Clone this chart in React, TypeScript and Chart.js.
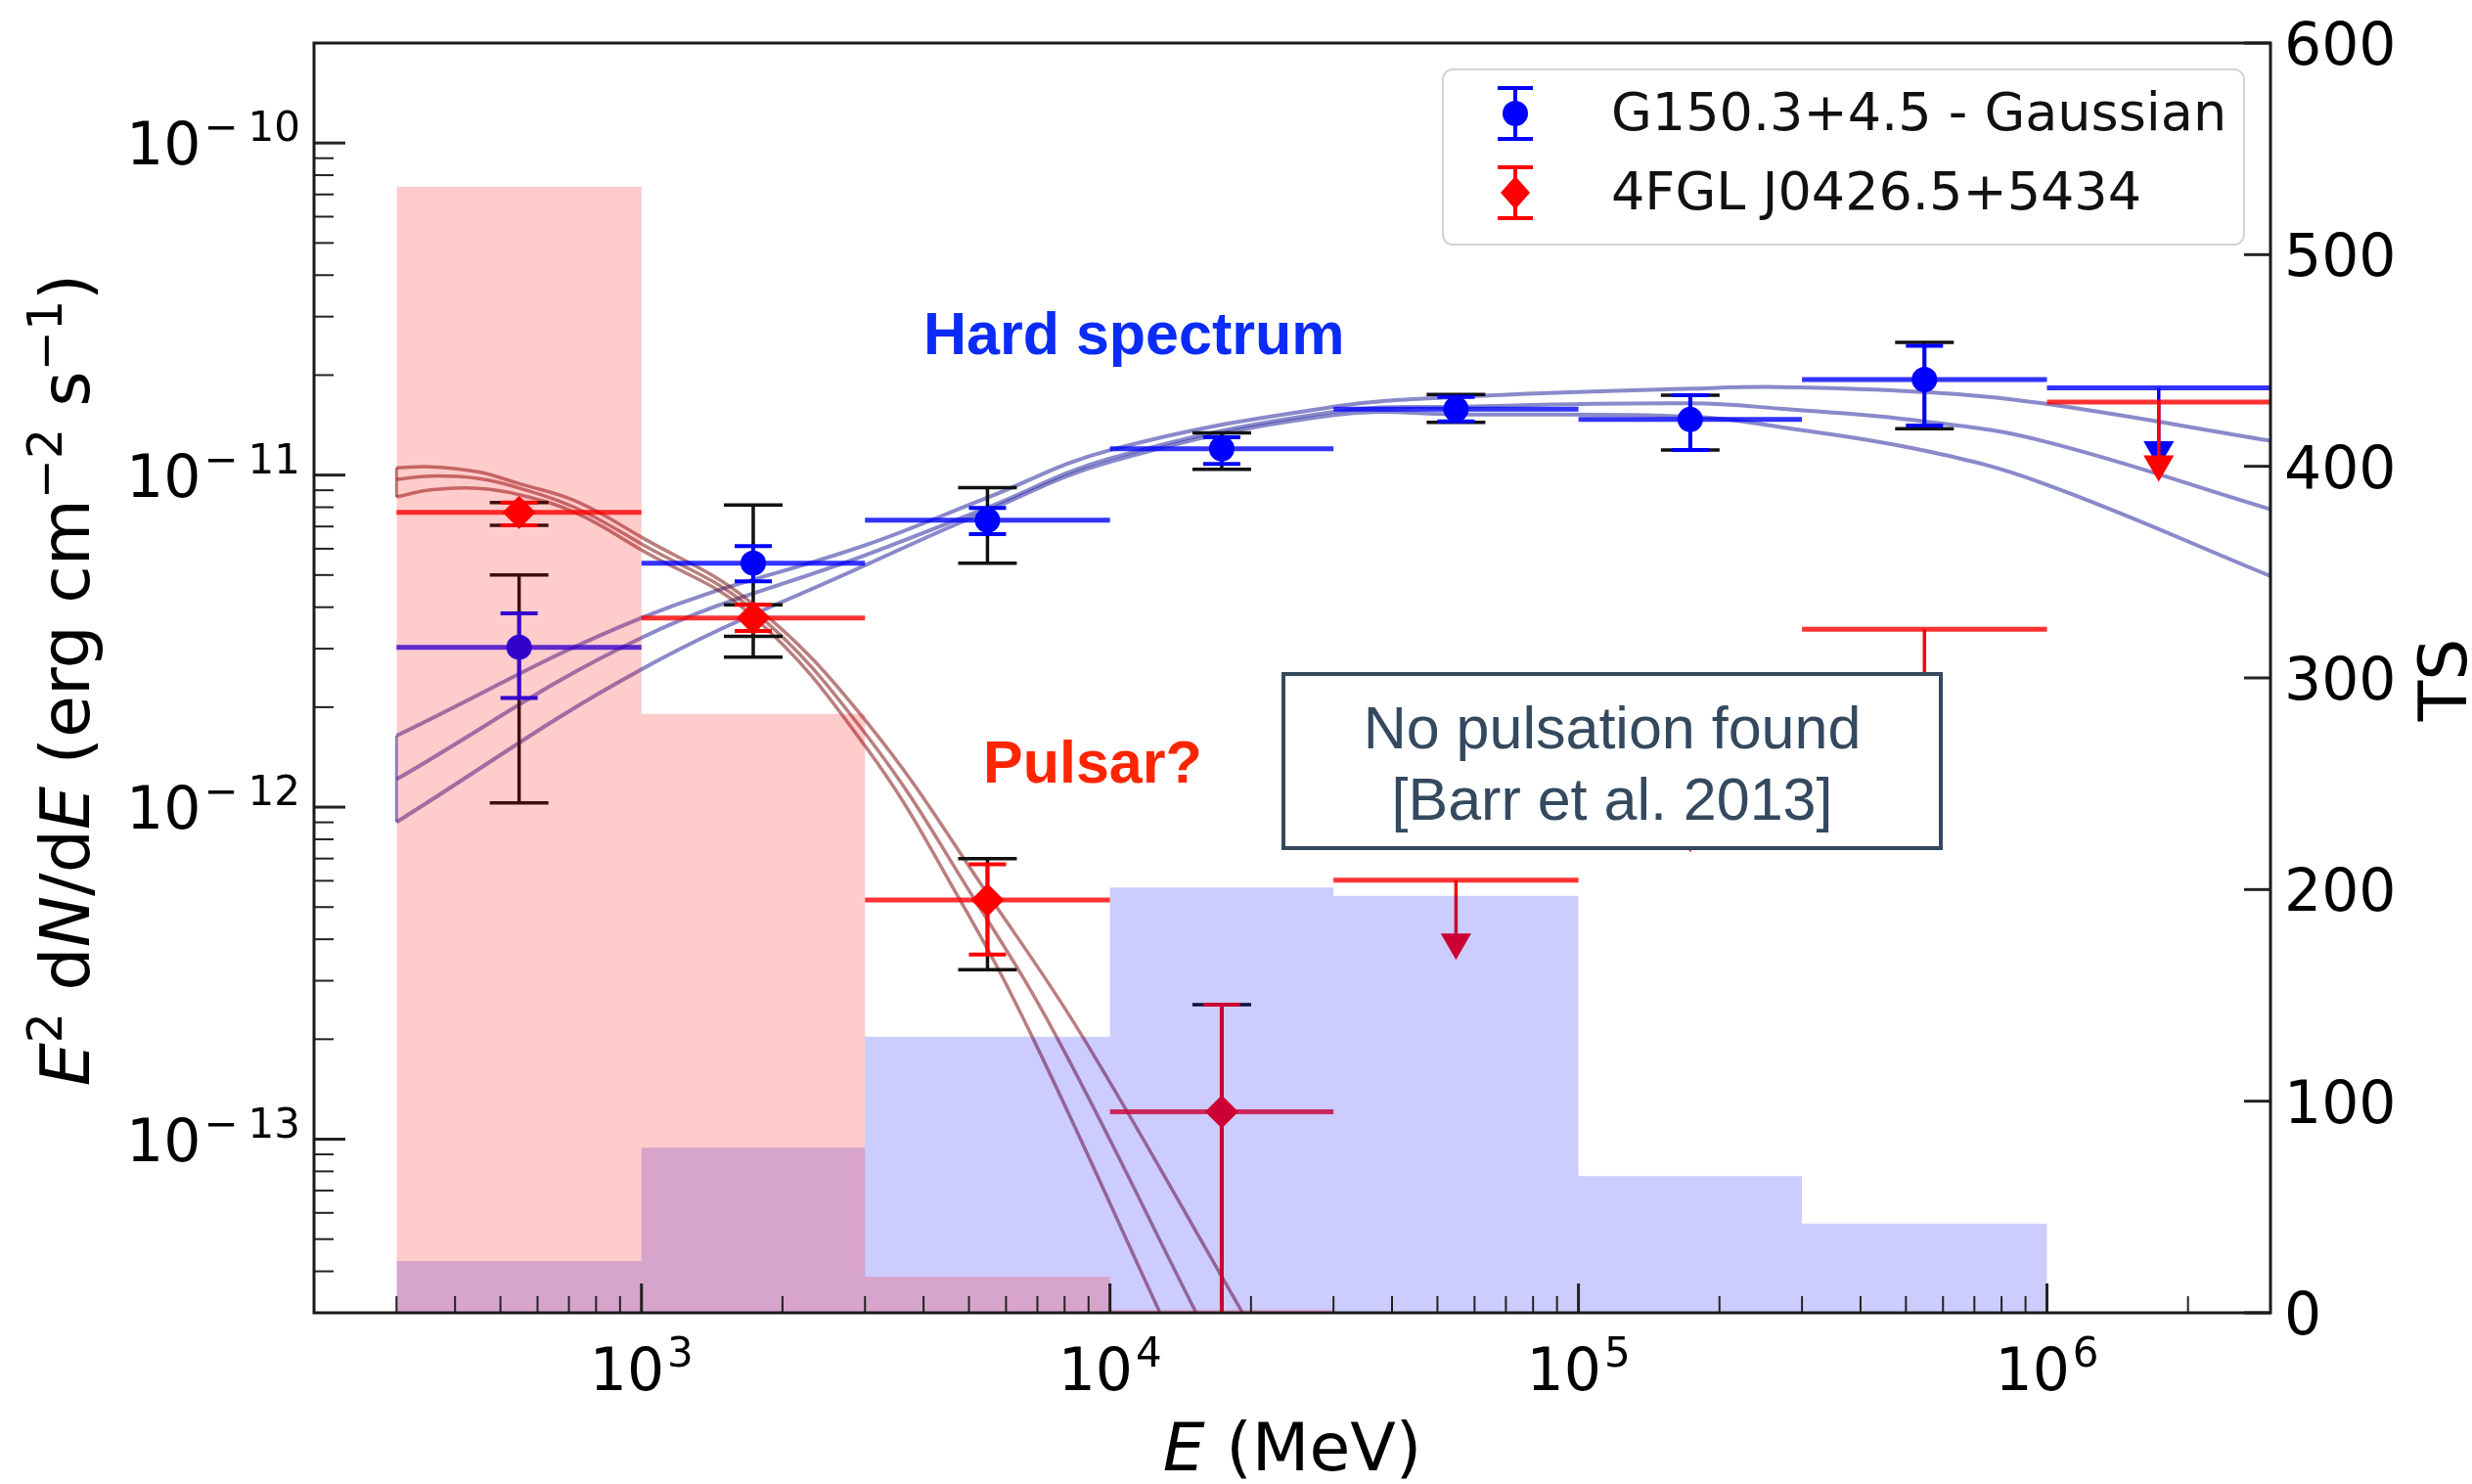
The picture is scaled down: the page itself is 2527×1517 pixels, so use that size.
import React, { useEffect, useRef } from "react";
import { Chart, registerables } from "chart.js";

Chart.register(...registerables);

const W = 2527;
const H = 1517;

// ---------------- data ----------------
// energy bins (MeV)
const binEdges = [300, 1000, 3000, 10000, 30000, 100000, 300000, 1000000, 3000000];
// TS per bin (right axis)
const tsPulsar = [532, 283, 17, 1.5, 0, 0, 0, 0];
const tsGauss = [24.5, 78, 130.5, 201, 197, 64.6, 42.2, 0];

// G150.3+4.5 - Gaussian
const gaussE = [548, 1732, 5477, 17321, 54772, 173205, 547723];
const gaussFlux = [3.03e-12, 5.43e-12, 7.31e-12, 1.2e-11, 1.58e-11, 1.47e-11, 1.94e-11];
const gaussStatLo = [2.13e-12, 4.79e-12, 6.64e-12, 1.08e-11, 1.45e-11, 1.19e-11, 1.41e-11];
const gaussStatHi = [3.83e-12, 6.11e-12, 7.96e-12, 1.3e-11, 1.72e-11, 1.74e-11, 2.45e-11];
const gaussSysLo = [1.03e-12, 2.83e-12, 5.43e-12, 1.04e-11, 1.44e-11, 1.19e-11, 1.38e-11];
const gaussSysHi = [5.0e-12, 8.13e-12, 9.16e-12, 1.34e-11, 1.75e-11, 1.74e-11, 2.51e-11];
const gaussUlE = [1732051];
const gaussUl = [1.83e-11];

// 4FGL J0426.5+5434
const psrE = [548, 1732, 5477, 17321];
const psrFlux = [7.72e-12, 3.71e-12, 5.25e-13, 1.21e-13];
const psrStatLo = [7.06e-12, 3.39e-12, 3.6e-13, 1e-15];
const psrStatHi = [8.26e-12, 4.07e-12, 6.73e-13, 2.54e-13];
const psrSysLo = [7.06e-12, 3.27e-12, 3.24e-13, 1e-15];
const psrSysHi = [8.26e-12, 4.07e-12, 7.0e-13, 2.54e-13];
const psrUlE = [54772, 173205, 547723, 1732051];
const psrUl = [6.03e-13, 1.27e-12, 3.43e-12, 1.66e-11];

// model bands (three lines each)
const gaussModelE = [300, 1000, 3020, 5430, 10000, 29800, 57500, 174000, 269000, 546000, 977000, 3000000];
const gaussModelHi = [1.641e-12, 3.715e-12, 6.166e-12, 8.511e-12, 1.189e-11, 1.603e-11, 1.722e-11, 1.82e-11, 1.841e-11, 1.778e-11, 1.644e-11, 1.268e-11];
const gaussModelMid = [1.213e-12, 3.236e-12, 5.754e-12, 7.943e-12, 1.122e-11, 1.549e-11, 1.607e-11, 1.644e-11, 1.585e-11, 1.452e-11, 1.268e-11, 7.889e-12];
const gaussModelLo = [9.016e-13, 2.6e-12, 5.37e-12, 7.762e-12, 1.096e-11, 1.514e-11, 1.521e-11, 1.5e-11, 1.396e-11, 1.186e-11, 9.462e-12, 4.966e-12];

const psrModelHiE = [300, 355, 447, 548, 725, 1000, 1706, 3020, 5640, 8770, 19140];
const psrModelHi = [1.052e-11, 1.059e-11, 1.023e-11, 9.42e-12, 8.34e-12, 6.5e-12, 4.15e-12, 1.81e-12, 5.16e-13, 2.02e-13, 3.02e-14];
const psrModelMidE = [300, 355, 447, 548, 725, 1000, 1706, 3020, 5190, 7710, 15240];
const psrModelMid = [9.7e-12, 9.93e-12, 9.77e-12, 9.14e-12, 7.96e-12, 6.2e-12, 3.98e-12, 1.65e-12, 5.16e-13, 2.02e-13, 3.02e-14];
const psrModelLoE = [300, 355, 447, 548, 725, 1000, 1706, 3020, 4820, 6840, 12760];
const psrModelLo = [8.59e-12, 9.02e-12, 9.12e-12, 8.73e-12, 7.69e-12, 5.95e-12, 3.82e-12, 1.51e-12, 5.16e-13, 2.02e-13, 3.02e-14];

// axes / ticks
const xMin = 200;
const xMax = 3e6;
const yMin = 3e-14;
const yMax = 2e-10;
const xDecades = [1e3, 1e4, 1e5, 1e6];
const xDecadeExp = ["3", "4", "5", "6"];
const yDecades = [1e-13, 1e-12, 1e-11, 1e-10];
const yDecadeExp = ["13", "12", "11", "10"];
const tsTicks = [0, 100, 200, 300, 400, 500, 600];

const legendLabels = ["G150.3+4.5 - Gaussian", "4FGL J0426.5+5434"];

// ---------------- styles ----------------
const FONT = '"DejaVu Sans", sans-serif';
const SANS = '"Liberation Sans", Arial, sans-serif';
const BLUE = "#0000ff";
const RED = "#ff0000";
const UL_ARROW = 0.65;

function binIndex(e: number) {
  for (let k = 0; k < binEdges.length - 1; k++) {
    if (e >= binEdges[k] && e < binEdges[k + 1]) return k;
  }
  return binEdges.length - 2;
}

function seg(ctx: CanvasRenderingContext2D, x1: number, y1: number, x2: number, y2: number, color: string, lw: number) {
  ctx.strokeStyle = color;
  ctx.lineWidth = lw;
  ctx.beginPath();
  ctx.moveTo(x1, y1);
  ctx.lineTo(x2, y2);
  ctx.stroke();
}

function errbar(ctx: CanvasRenderingContext2D, x: number, y1: number, y2: number, color: string, lw: number, cap: number) {
  seg(ctx, x, y1, x, y2, color, lw);
  seg(ctx, x - cap, y1, x + cap, y1, color, lw);
  seg(ctx, x - cap, y2, x + cap, y2, color, lw);
}

// draws 10^exp; negative exponents get a spaced minus sign like mathtext
function drawPow(ctx: CanvasRenderingContext2D, x: number, yBase: number, exp: string, neg: boolean, align: "center" | "right") {
  const big = `60px ${FONT}`;
  const small = `42px ${FONT}`;
  ctx.font = big;
  const wb = ctx.measureText("10").width;
  ctx.font = small;
  const wm = neg ? ctx.measureText("\u2212").width + 10 : 0;
  const we = ctx.measureText(exp).width;
  const tot = wb + 3 + wm + we;
  const x0 = align === "center" ? x - tot / 2 : x - tot;
  ctx.textAlign = "left";
  ctx.textBaseline = "alphabetic";
  ctx.fillStyle = "#000";
  ctx.font = big;
  ctx.fillText("10", x0, yBase);
  ctx.font = small;
  if (neg) ctx.fillText("\u2212", x0 + wb + 3, yBase - 24);
  ctx.fillText(exp, x0 + wb + 3 + wm, yBase - 24);
}

type Piece = { t: string; it?: boolean; sup?: boolean };

function drawRich(ctx: CanvasRenderingContext2D, pieces: Piece[], size: number) {
  const fontOf = (p: Piece) => `${p.it ? "italic " : ""}${p.sup ? Math.round(size * 0.7) : size}px ${FONT}`;
  let tot = 0;
  const widths = pieces.map((p) => {
    ctx.font = fontOf(p);
    const w = ctx.measureText(p.t).width;
    tot += w;
    return w;
  });
  let x = -tot / 2;
  ctx.textAlign = "left";
  ctx.textBaseline = "alphabetic";
  pieces.forEach((p, i) => {
    ctx.font = fontOf(p);
    ctx.fillText(p.t, x, p.sup ? -size * 0.4 : 0);
    x += widths[i];
  });
}

const sedPlugin: any = {
  id: "sed",
  beforeDatasetDraw(chart: any, args: any) {
    const ds: any = chart.data.datasets[args.index];
    const info = ds.errInfo;
    if (!info) return;
    const ctx: CanvasRenderingContext2D = chart.ctx;
    const xs = chart.scales.x;
    const ys = chart.scales.y;
    const a = chart.chartArea;
    ctx.save();
    ctx.beginPath();
    ctx.rect(a.left, a.top, a.right - a.left, a.bottom - a.top);
    ctx.clip();
    ctx.lineCap = "butt";
    info.E.forEach((e: number, i: number) => {
      const k = binIndex(e);
      const x = xs.getPixelForValue(e);
      const xl = xs.getPixelForValue(binEdges[k]);
      const xr = xs.getPixelForValue(binEdges[k + 1]);
      const y = ys.getPixelForValue(info.val[i]);
      seg(ctx, xl, y, xr, y, info.hColor, 5);
      if (info.ul) {
        const yt = ys.getPixelForValue(info.val[i] * UL_ARROW);
        seg(ctx, x, y, x, yt, info.color, 3.5);
      } else {
        errbar(ctx, x, ys.getPixelForValue(info.sysLo[i]), ys.getPixelForValue(info.sysHi[i]), "#111111", 3.5, 30);
        errbar(ctx, x, ys.getPixelForValue(info.statLo[i]), ys.getPixelForValue(info.statHi[i]), info.color, 4, 19);
      }
    });
    ctx.restore();
  },
  afterDatasetsDraw(chart: any) {
    const ctx: CanvasRenderingContext2D = chart.ctx;
    const xs = chart.scales.x;
    const ys = chart.scales.y;
    const ts = chart.scales.yTS;
    const a = chart.chartArea;
    ctx.save();

    // ticks (inward)
    ctx.lineCap = "butt";
    for (let d = 100; d <= 1e6; d *= 10) {
      for (let m = 1; m <= 9; m++) {
        const v = m * d;
        if (v < xMin || v > xMax) continue;
        const px = xs.getPixelForValue(v);
        const major = m === 1;
        seg(ctx, px, a.bottom, px, a.bottom - (major ? 30 : 17), "#222", major ? 3 : 2);
      }
    }
    for (let d = 1e-14; d <= 1e-10; d *= 10) {
      for (let m = 1; m <= 9; m++) {
        const v = m * d;
        if (v < yMin * 0.999 || v > yMax * 1.001) continue;
        const py = ys.getPixelForValue(v);
        const major = m === 1;
        seg(ctx, a.left, py, a.left + (major ? 32 : 20), py, "#222", major ? 3 : 2);
      }
    }
    tsTicks.forEach((v) => {
      const py = ts.getPixelForValue(v);
      seg(ctx, a.right, py, a.right - 27, py, "#222", 3);
    });

    // frame
    ctx.strokeStyle = "#1a1a1a";
    ctx.lineWidth = 3;
    ctx.strokeRect(a.left, a.top, a.right - a.left, a.bottom - a.top);

    // tick labels
    xDecades.forEach((v, i) => drawPow(ctx, xs.getPixelForValue(v), a.bottom + 79, xDecadeExp[i], false, "center"));
    yDecades.forEach((v, i) => drawPow(ctx, a.left - 14, ys.getPixelForValue(v) + 22, yDecadeExp[i], true, "right"));
    ctx.font = `60px ${FONT}`;
    ctx.fillStyle = "#000";
    ctx.textAlign = "left";
    ctx.textBaseline = "alphabetic";
    tsTicks.forEach((v) => ctx.fillText(String(v), a.right + 14, ts.getPixelForValue(v) + 22));

    // axis titles
    ctx.fillStyle = "#000";
    ctx.save();
    ctx.translate((a.left + a.right) / 2, 1503);
    drawRich(ctx, [{ t: "E", it: true }, { t: " (MeV)" }], 68);
    ctx.restore();

    ctx.save();
    ctx.translate(91, 695);
    ctx.rotate(-Math.PI / 2);
    drawRich(
      ctx,
      [
        { t: "E", it: true },
        { t: "2", sup: true },
        { t: " d" },
        { t: "N", it: true },
        { t: "/d" },
        { t: "E", it: true },
        { t: " (erg cm" },
        { t: "\u22122", sup: true },
        { t: " s" },
        { t: "\u22121", sup: true },
        { t: ")" },
      ],
      70
    );
    ctx.restore();

    ctx.save();
    ctx.translate(2521, 695);
    ctx.rotate(-Math.PI / 2);
    drawRich(ctx, [{ t: "TS" }], 68);
    ctx.restore();

    // annotations
    ctx.textAlign = "left";
    ctx.textBaseline = "alphabetic";
    ctx.font = `bold 61px ${SANS}`;
    ctx.fillStyle = "#0b2cf7";
    ctx.fillText("Hard spectrum", 944, 362);
    ctx.fillStyle = "#ff2500";
    ctx.fillText("Pulsar?", 1005, 800);

    // boxed note
    ctx.fillStyle = "#ffffff";
    ctx.fillRect(1312, 689, 672, 178);
    ctx.strokeStyle = "#34495e";
    ctx.lineWidth = 4;
    ctx.strokeRect(1312, 689, 672, 178);
    ctx.fillStyle = "#34495e";
    ctx.font = `61px ${SANS}`;
    ctx.textAlign = "center";
    ctx.fillText("No pulsation found", 1648, 765);
    ctx.fillText("[Barr et al. 2013]", 1648, 838);

    // legend
    const lx = 1475, ly = 71, lw = 819, lh = 179, r = 10;
    ctx.beginPath();
    ctx.moveTo(lx + r, ly);
    ctx.arcTo(lx + lw, ly, lx + lw, ly + lh, r);
    ctx.arcTo(lx + lw, ly + lh, lx, ly + lh, r);
    ctx.arcTo(lx, ly + lh, lx, ly, r);
    ctx.arcTo(lx, ly, lx + lw, ly, r);
    ctx.closePath();
    ctx.fillStyle = "rgba(255,255,255,0.85)";
    ctx.fill();
    ctx.strokeStyle = "#d4d4d4";
    ctx.lineWidth = 2;
    ctx.stroke();

    const mx = 1549;
    const rows = [116, 197];
    const cols = [BLUE, RED];
    rows.forEach((ry, i) => {
      errbar(ctx, mx, ry - 26, ry + 26, cols[i], 4, 18);
      ctx.fillStyle = cols[i];
      ctx.beginPath();
      if (i === 0) {
        ctx.arc(mx, ry, 13, 0, Math.PI * 2);
      } else {
        ctx.moveTo(mx, ry - 17);
        ctx.lineTo(mx + 15, ry);
        ctx.lineTo(mx, ry + 17);
        ctx.lineTo(mx - 15, ry);
        ctx.closePath();
      }
      ctx.fill();
      ctx.fillStyle = "#111";
      ctx.font = `54px ${FONT}`;
      ctx.textAlign = "left";
      ctx.textBaseline = "alphabetic";
      ctx.fillText(legendLabels[i], 1647, ry + 17);
    });

    ctx.restore();
  },
};

function stepData(ts: number[]) {
  return binEdges.map((e, i) => ({ x: e, y: ts[Math.min(i, ts.length - 1)] }));
}

function pts(E: number[], F: number[]) {
  return E.map((e, i) => ({ x: e, y: F[i] }));
}

function modelLine(E: number[], F: number[], color: string, width: number) {
  return {
    type: "line",
    data: pts(E, F),
    borderColor: color,
    borderWidth: width,
    pointRadius: 0,
    tension: 0.4,
    fill: false,
    order: 2,
    xAxisID: "x",
    yAxisID: "y",
  };
}

const BLUE_MODEL = "rgba(40,40,160,0.55)";
const RED_MODEL = "rgba(130,20,20,0.55)";

function edgeLine(x1: number, y1: number, x2: number, y2: number, color: string) {
  return {
    type: "line",
    data: [
      { x: x1, y: y1 },
      { x: x2, y: y2 },
    ],
    borderColor: color,
    borderWidth: 3,
    pointRadius: 0,
    order: 2,
    xAxisID: "x",
    yAxisID: "y",
  };
}

export default function App() {
  const ref = useRef<HTMLCanvasElement | null>(null);

  useEffect(() => {
    if (!ref.current) return;
    const gLast = gaussModelE.length - 1;
    const datasets: any[] = [
      {
        type: "line",
        data: stepData(tsPulsar),
        stepped: true,
        fill: "origin",
        backgroundColor: "rgba(255,0,0,0.2)",
        borderWidth: 0,
        pointRadius: 0,
        order: 0,
        xAxisID: "x",
        yAxisID: "yTS",
      },
      {
        type: "line",
        data: stepData(tsGauss),
        stepped: true,
        fill: "origin",
        backgroundColor: "rgba(0,0,255,0.2)",
        borderWidth: 0,
        pointRadius: 0,
        order: 0,
        xAxisID: "x",
        yAxisID: "yTS",
      },
      {
        type: "line",
        data: pts(psrUlE, psrUl.map((v) => v * UL_ARROW)),
        showLine: false,
        pointStyle: "triangle",
        rotation: 180,
        pointRadius: 18,
        pointBackgroundColor: RED,
        pointBorderWidth: 0,
        order: 1,
        xAxisID: "x",
        yAxisID: "y",
        errInfo: { E: psrUlE, val: psrUl, ul: true, color: RED, hColor: "rgba(255,0,0,0.8)" },
      },
      {
        type: "line",
        data: pts(psrE, psrFlux),
        showLine: false,
        pointStyle: "rectRot",
        pointRadius: 17,
        pointBackgroundColor: RED,
        pointBorderWidth: 0,
        order: 1,
        xAxisID: "x",
        yAxisID: "y",
        errInfo: {
          E: psrE,
          val: psrFlux,
          statLo: psrStatLo,
          statHi: psrStatHi,
          sysLo: psrSysLo,
          sysHi: psrSysHi,
          color: RED,
          hColor: "rgba(255,0,0,0.8)",
        },
      },
      {
        type: "line",
        data: pts(gaussUlE, gaussUl.map((v) => v * UL_ARROW)),
        showLine: false,
        pointStyle: "triangle",
        rotation: 180,
        pointRadius: 18,
        pointBackgroundColor: BLUE,
        pointBorderWidth: 0,
        order: 1,
        xAxisID: "x",
        yAxisID: "y",
        errInfo: { E: gaussUlE, val: gaussUl, ul: true, color: BLUE, hColor: "rgba(0,0,255,0.8)" },
      },
      {
        type: "line",
        data: pts(gaussE, gaussFlux),
        showLine: false,
        pointStyle: "circle",
        pointRadius: 13,
        pointBackgroundColor: BLUE,
        pointBorderWidth: 0,
        order: 1,
        xAxisID: "x",
        yAxisID: "y",
        errInfo: {
          E: gaussE,
          val: gaussFlux,
          statLo: gaussStatLo,
          statHi: gaussStatHi,
          sysLo: gaussSysLo,
          sysHi: gaussSysHi,
          color: BLUE,
          hColor: "rgba(0,0,255,0.8)",
        },
      },
      modelLine(psrModelHiE, psrModelHi, RED_MODEL, 3.5),
      modelLine(psrModelMidE, psrModelMid, RED_MODEL, 3.5),
      modelLine(psrModelLoE, psrModelLo, RED_MODEL, 3.5),
      modelLine(gaussModelE, gaussModelHi, BLUE_MODEL, 4),
      modelLine(gaussModelE, gaussModelMid, BLUE_MODEL, 4),
      modelLine(gaussModelE, gaussModelLo, BLUE_MODEL, 4),
      edgeLine(gaussModelE[0], gaussModelHi[0], gaussModelE[0], gaussModelLo[0], BLUE_MODEL),
      edgeLine(gaussModelE[gLast], gaussModelHi[gLast], gaussModelE[gLast], gaussModelLo[gLast], BLUE_MODEL),
      edgeLine(psrModelHiE[0], psrModelHi[0], psrModelLoE[0], psrModelLo[0], RED_MODEL),
    ];

    const chart = new Chart(ref.current, {
      type: "line",
      data: { datasets },
      options: {
        responsive: false,
        devicePixelRatio: 1,
        animation: false,
        events: [],
        layout: { padding: { top: 44, left: 0, right: 0, bottom: 0 } },
        plugins: { legend: { display: false }, tooltip: { enabled: false } },
        scales: {
          x: {
            type: "logarithmic",
            position: "bottom",
            min: xMin,
            max: xMax,
            grid: { display: false },
            border: { display: false },
            ticks: { display: false },
            afterFit: (s: any) => {
              s.height = H - 1342;
            },
          },
          y: {
            type: "logarithmic",
            position: "left",
            min: yMin,
            max: yMax,
            grid: { display: false },
            border: { display: false },
            ticks: { display: false },
            afterFit: (s: any) => {
              s.width = 321;
            },
          },
          yTS: {
            type: "linear",
            position: "right",
            min: 0,
            max: 600,
            grid: { display: false },
            border: { display: false },
            ticks: { display: false },
            afterFit: (s: any) => {
              s.width = W - 2321;
            },
          },
        },
      } as any,
      plugins: [sedPlugin],
    });
    return () => chart.destroy();
  }, []);

  return (
    <canvas
      ref={ref}
      width={W}
      height={H}
      style={{ position: "absolute", left: 0, top: 0, width: W, height: H, display: "block" }}
    />
  );
}
